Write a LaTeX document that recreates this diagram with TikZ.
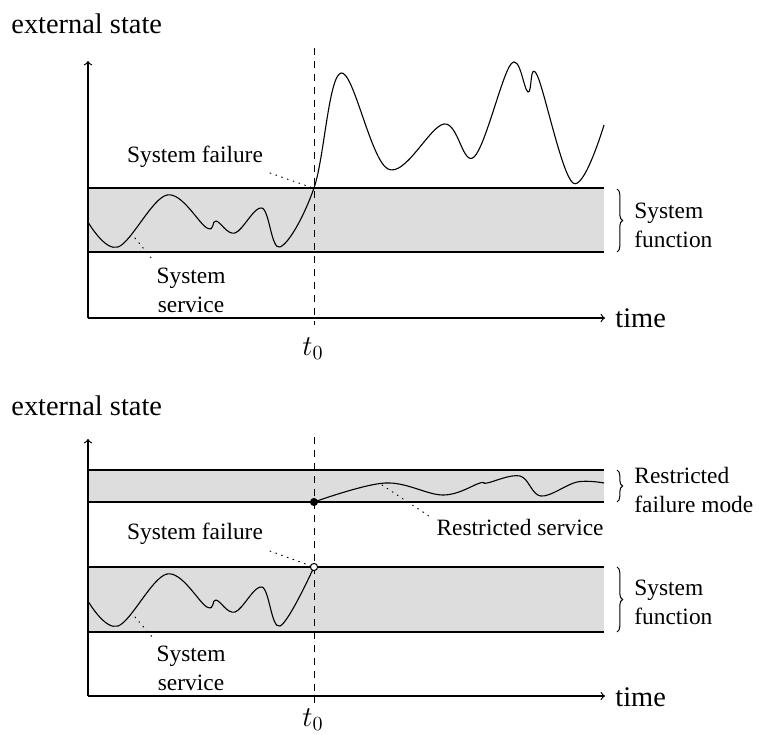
\documentclass[tikz,border=0pt]{standalone}
\usepackage{fontspec}
\setmainfont{Liberation Serif}
\usetikzlibrary{decorations.pathreplacing}
\definecolor{bandgray}{RGB}{221,221,221}
\tikzset{
  axis/.style={line width=0.6pt,->},
  bandline/.style={line width=1.25pt},
  band/.style={fill=bandgray,draw=none},
  curve/.style={line width=0.55pt,smooth,tension=0.6},
  tline/.style={line width=0.45pt,dash pattern=on 3.5pt off 3pt},
  pointer/.style={line width=0.5pt,dash pattern=on 0.45pt off 2.6pt,line cap=round},
  lbl/.style={font=\fontsize{11.7}{14.5}\selectfont,inner sep=0pt},
  biglbl/.style={font=\fontsize{14.2}{17}\selectfont,inner sep=0pt},
  bracestyle/.style={line width=0.5pt,decorate,decoration={brace,amplitude=2.8pt}},
  dotfull/.style={circle,fill=black,draw=black,inner sep=0pt,minimum size=3.6pt},
  dotopen/.style={circle,fill=white,draw=black,line width=0.5pt,inner sep=0pt,minimum size=3.6pt},
}
\begin{document}
\begin{tikzpicture}[x=0.5pt,y=-0.5pt]
\useasboundingbox (0,0) rectangle (759,734);

% ================= TOP PANEL =================
\node[biglbl,anchor=base west] (es1) at (11,33) {external state};
\fill[bandgray] (88,188) rectangle (604,252);
\draw[bandline] (88,188) -- (604,188);
\draw[bandline] (88,252) -- (604,252);
\coordinate (o1) at (88,318);
\coordinate (ytip1) at (88,61);
\coordinate (xtip1) at (605,318);
\draw[axis] (o1) -- (ytip1);
\draw[axis] (o1) -- (xtip1);
\node[biglbl,anchor=base west] (time1) at (615,327) {time};
\coordinate (dtop1) at (314,48);
\coordinate (dbot1) at (314,325);
\draw[tline] (dtop1) -- (dbot1);
\node[biglbl,anchor=base] (t01) at (313,355) {$t_0$};

\draw[curve] plot coordinates {(88,222) (118,247) (167,195) (207,228) (216,221) (235,233) (262,208) (280,247) (314,188) (341,73) (388,169) (444,124) (474,157) (511,64) (528,92) (537,75) (573,183) (604,125)};

\node[lbl,anchor=base] (sf1) at (195,162) {System failure};
\coordinate (sfa1) at (270,173);
\coordinate (sfb1) at (313,188);
\draw[pointer] (sfa1) -- (sfb1);

\node[lbl,align=center] (ss1) at (191,290) {System\\service};
\coordinate (ssa1) at (135,238);
\coordinate (ssb1) at (153,260);
\draw[pointer] (ssa1) -- (ssb1);

\coordinate (br1a) at (617,189);
\coordinate (br1b) at (617,252);
\draw[bracestyle] (br1a) -- (br1b);
\node[lbl,align=left,anchor=west] (fn1) at (634,225) {System\\function};

% ================= BOTTOM PANEL =================
\node[biglbl,anchor=base west] (es2) at (11,415) {external state};
\fill[bandgray] (88,470) rectangle (604,502);
\draw[bandline] (88,470) -- (604,470);
\draw[bandline] (88,502) -- (604,502);
\fill[bandgray] (88,567) rectangle (604,632);
\draw[bandline] (88,567) -- (604,567);
\draw[bandline] (88,632) -- (604,632);
\coordinate (o2) at (88,696);
\coordinate (ytip2) at (88,439);
\coordinate (xtip2) at (605,696);
\draw[axis] (o2) -- (ytip2);
\draw[axis] (o2) -- (xtip2);
\node[biglbl,anchor=base west] (time2) at (615,706) {time};
\coordinate (dtop2) at (314,437);
\coordinate (dbot2) at (314,703);
\draw[tline] (dtop2) -- (dbot2);
\node[biglbl,anchor=base] (t02) at (313,726) {$t_0$};

\draw[curve] plot coordinates {(88,601) (118,626) (167,574) (207,607) (216,600) (235,612) (262,587) (280,626) (314,567)};
\draw[curve] plot coordinates {(314,502) (385,483) (443,495) (480,483) (487,483) (520,476) (541,496) (577,482) (604,483)};

\node[dotopen] (fail2) at (314,567) {};
\node[dotfull] (rs2) at (314,502) {};

\node[lbl,anchor=base] (sf2) at (195,539) {System failure};
\coordinate (sfa2) at (270,551);
\draw[pointer] (sfa2) -- (fail2);

\node[lbl,align=center] (ss2) at (191,668) {System\\service};
\coordinate (ssa2) at (135,617);
\coordinate (ssb2) at (153,638);
\draw[pointer] (ssa2) -- (ssb2);

\node[lbl,anchor=base east] (rsl) at (604,535) {Restricted service};
\coordinate (rsa) at (382,485);
\coordinate (rsb) at (432,518);
\draw[pointer] (rsa) -- (rsb);

\coordinate (br2a) at (617,470);
\coordinate (br2b) at (617,502);
\draw[bracestyle] (br2a) -- (br2b);
\node[lbl,align=left,anchor=west] (fm2) at (634,490) {Restricted\\failure mode};

\coordinate (br3a) at (617,567);
\coordinate (br3b) at (617,632);
\draw[bracestyle] (br3a) -- (br3b);
\node[lbl,align=left,anchor=west] (fn2) at (634,602) {System\\function};
\end{tikzpicture}
\end{document}
